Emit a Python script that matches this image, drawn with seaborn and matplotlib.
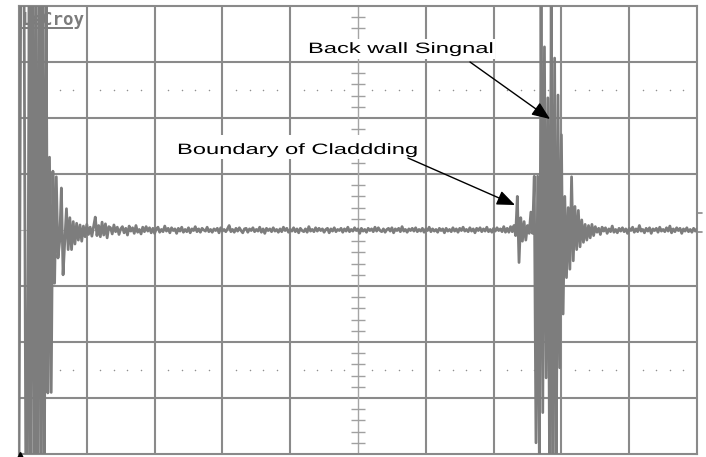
import numpy as np
import pandas as pd
import matplotlib
matplotlib.use("Agg")
import matplotlib.pyplot as plt
import seaborn as sns
from matplotlib import patheffects
from matplotlib.patches import Rectangle
from matplotlib.transforms import Affine2D

# ---------------------------------------------------------------------------
# Ultrasonic A-scan trace (peak-detect capture), amplitude in mV,
# one sample every DT divisions, 100 mV per vertical division.
# ---------------------------------------------------------------------------
DT = 0.025
MV_PER_DIV = 100.0

# front-face echo and its ringing
front_echo = [
    -420, 420, 420, 420, -420, -420, 420, -420, 420, -420,
    420, -420, 420, -420, 420, -420, 420, -291, 130, -290,
    105, -95, 95, -50, -20, 75, -80, -20, 38, -35,
    22, -35, 15, -25, 12, -18, 9, -20, 7, -12,
    10, -8, 5, -11, 6, 23, -10, 8, -12, 14,
    -9, 11, -14, 6,
]

# grass between the front face and the cladding boundary
noise_mid = [
    4, -7, 9, -3, 5, -8, 2, 6, -5, 3, -9, 7, -2, 4, -6, 8, -4, 1, -7, 5,
    -3, 6, -2, 4, -5, 3, -6, 2, 5, -4, 1, -3, 7, -2, 3, -5, 4, -1, 2, -6,
    3, -2, 5, -4, 1, -3, 4, -5, 2, -1, 6, -3, 2, -4, 3, 0, -2, 5, -3, 1,
    -4, 2, -1, 3, -5, 4, -2, 1, -3, 2, 8, -3, 1, -4, 3, -2, 4, -1, -5, 2,
    3, -4, 2, -1, 4, -3, 1, -2, 5, -4, 2, -6, 3, -1, 2, -3, 4, -2, 1, -4,
    2, -3, 5, -1, 3, -4, 1, -2, 4, -3, 2, -5, 3, -1, -3, 2, -4, 6, -2, 1,
    -3, 4, -2, 3, -1, 2, -4, 1, 3, -5, 2, -2, 4, -3, 1, -1, 3, -4, 2, -2,
    5, -3, 1, -2, 4, -1, 2, -6, 3, -2, 1, -4, 3, -1, 2, -3, 5, -2, 4, -1,
    -3, 2, -4, 1, 3, -2, 4, -5, 2, -1, 3, -3, 6, -2, 1, -4, 2, -1, 3, -2,
    4, -3, 1, -2, 3, -4, 2, -1, 5, -3, 2, -2, 1, -4, 3, -1, 2, -5, 3, -2,
    1, -3, 4, -2, 2, -4, 3, -1, 5, -2, 1, -3, 4, -2, 2, -5, 3, -1, 4, -3,
    2, -2, 5, -3, 1, -4, 3, -2, 4, -1, 2, -3, 6, -4,
]

# cladding boundary echo followed by the back-wall echo
back_echo = [
    3, -4, 6, -3, 8, -10, 60, -58, 22, -20,
    15, -18, 8, -6, 32, -6, 96, -380, 96, -420,
    420, -326, 327, -264, 236, -420, 420, -420, 307, -420,
    241, -246, 170, -150, 60, -85, 40, -70, 95, -55,
    42, -35, 35, -30, 18, -22, 10, -18, 8, -14, 10, -10,
]

# grass after the back wall
noise_tail = [
    6, -4, 3, -8, 5, -2, 4, -6, 2, -3, 7, -4, 1, -5, 3, -2, 4, -3, 2, -6,
    3, -1, 5, -4, 2, -3, 8, -2, 1, -5, 3, -2, 4, -6, 2, -1, 3, -4, 5, -2,
    1, -3, 4, -2, 7, -5, 2, -3, 4, -1, 3, -6, 2, -2, 4, -3, 1, -4, 3, -2, 2,
]

label_back = "Back wall Singnal"
label_clad = "Boundary of Claddding"
brand = "LeCroy"

amp_mv = np.array(front_echo + noise_mid + back_echo + noise_tail, dtype=float)
trace = pd.DataFrame({
    "t_div": np.arange(len(amp_mv)) * DT,
    "v_div": amp_mv / MV_PER_DIV,
})

# ---------------------------------------------------------------------------
W, H = 706, 457
X0, X1, Y0, Y1 = 19, 697, 6, 454          # screen frame in pixels


def px(x, y):
    """Pixel position on the screen -> graticule (division) coordinates."""
    return ((x - X0) / (X1 - X0) * 10.0, 4.0 - (y - Y0) / (Y1 - Y0) * 8.0)


class Widen(patheffects.AbstractPathEffect):
    """Draws text glyphs widened horizontally about their left baseline."""

    def __init__(self, sx):
        super().__init__()
        self.sx = sx

    def draw_path(self, renderer, gc, tpath, affine, rgbFace=None):
        x0 = affine.get_matrix()[0, 2]
        aff = affine + Affine2D().translate(-x0, 0).scale(self.sx, 1.0).translate(x0, 0)
        renderer.draw_path(gc, tpath, aff, rgbFace)


sns.set_theme(style="white")
plt.rcParams["font.family"] = ["Liberation Sans", "DejaVu Sans"]
plt.rcParams["path.simplify"] = False

fig = plt.figure(figsize=(W / 100, H / 100), dpi=100)
ax = fig.add_axes([X0 / W, (H - Y1) / H, (X1 - X0) / W, (Y1 - Y0) / H])
ax.set_xlim(0, 10)
ax.set_ylim(-4, 4)
ax.set_xticks([])
ax.set_yticks([])
ax.set_facecolor("white")

GRID = "#8a8a8a"
for s in ax.spines.values():
    s.set_color(GRID)
    s.set_linewidth(1.5)

# graticule
for xv in [1, 2, 3, 4, 6, 7, 8, 9]:
    ax.axvline(xv, color=GRID, lw=1.5, zorder=1)
for yv in [-3, -2, -1, 1, 2, 3]:
    ax.axhline(yv, color=GRID, lw=1.5, zorder=1)
ax.axvline(5, color="#a5a5a5", lw=1.0, zorder=1)
ax.axhline(0, color="#b5b5b5", lw=0.8, zorder=1)

# minor ticks on the centre vertical axis
minor_y = [k / 5 for k in range(-19, 20) if k % 5 != 0]
ax.hlines(minor_y, 5 - 0.1, 5 + 0.1, color="#a0a0a0", lw=1.0, zorder=1)

# dotted rows at +/- 2.5 div
dot_x = [k / 5 for k in range(1, 50) if k % 5 != 0]
for yv in (2.5, -2.5):
    ax.scatter(dot_x, [yv] * len(dot_x), s=1.2, color="#909090",
               linewidths=0, zorder=1)

# instrument badge
bx, by = px(21, 25)
ax.text(bx, by, brand, family="DejaVu Sans Mono", weight="bold", fontsize=12.5,
        color="#7c7c7c", va="baseline", ha="left", zorder=2)
ux0, uy = px(22, 27.5)
ux1, _ = px(73, 27.5)
ax.plot([ux0, ux1], [uy, uy], color="#7c7c7c", lw=1.4, zorder=2,
        solid_capstyle="butt")

# the trace
sns.lineplot(data=trace, x="t_div", y="v_div", ax=ax, color="#7d7d7d",
             linewidth=2.0, estimator=None, sort=False, zorder=3, legend=False)
ax.set_xlabel("")
ax.set_ylabel("")

# annotations (white backing behind the captions)
for (xa, ya, xb, yb) in [(306, 39, 495, 59), (175, 135, 420, 159)]:
    (l, t), (r, b) = px(xa, ya), px(xb, yb)
    ax.add_patch(Rectangle((l, b), r - l, t - b, facecolor="white",
                           edgecolor="none", zorder=4))

widen = [Widen(1.58)]
tx, ty = px(308, 53)
ax.text(tx, ty, label_back, fontsize=10.8, color="black", va="baseline",
        ha="left", zorder=5, path_effects=widen)
tx, ty = px(177, 154)
ax.text(tx, ty, label_clad, fontsize=10.8, color="black", va="baseline",
        ha="left", zorder=5, path_effects=widen)

arrow = dict(arrowstyle="-|>,head_length=1.1,head_width=0.45", color="black",
             lw=1.0, mutation_scale=10, shrinkA=0, shrinkB=0)
ax.annotate("", xy=px(550, 119), xytext=px(470, 62), arrowprops=arrow, zorder=6)
ax.annotate("", xy=px(515, 205), xytext=px(408, 158), arrowprops=arrow, zorder=6)

# level / trigger markers outside the frame
for yy in (213, 232):
    (a, v), (b, _) = px(698, yy), px(702, yy)
    ax.plot([a, b], [v, v], color="#8a8a8a", lw=1.2, clip_on=False, zorder=6)
mx, my = px(20, 455)
ax.plot([mx], [my], marker="^", markersize=4.5, color="black", clip_on=False,
        zorder=6)

fig.savefig("out.png", dpi=100)
